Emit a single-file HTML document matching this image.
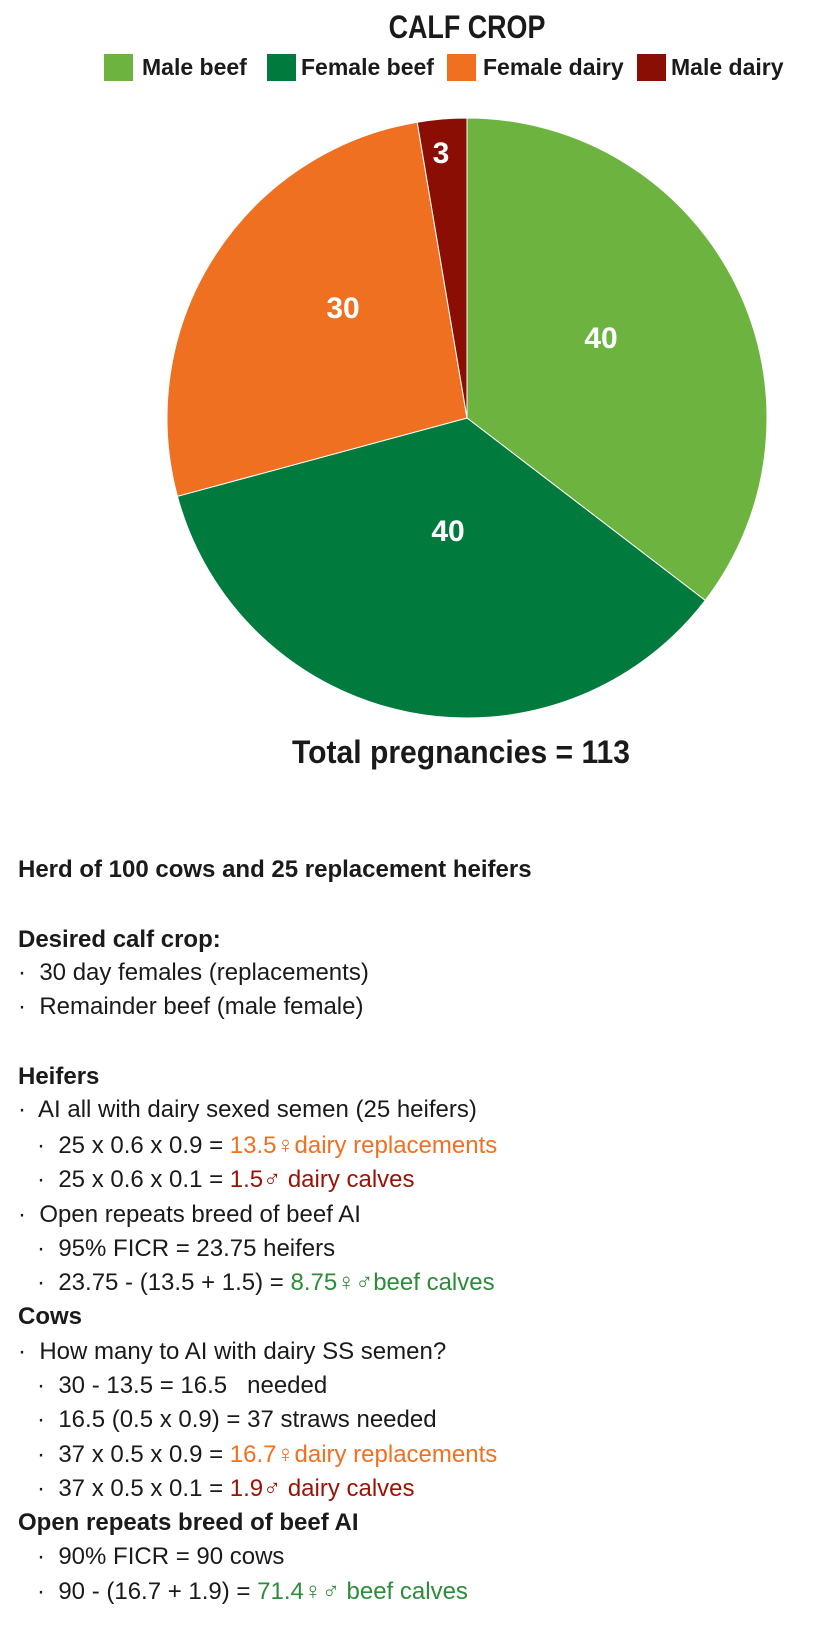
<!DOCTYPE html>
<html><head><meta charset="utf-8"><style>
body{margin:0;width:836px;height:1630px;background:#fff;position:relative;overflow:hidden;font-family:"Liberation Sans Narrow","Liberation Sans",sans-serif;color:#1a1a1a}
.t{position:absolute;white-space:nowrap;font-size:24px;line-height:28px}
.b{font-weight:bold}
.o{color:#f07022}.r{color:#9a1206}.g{color:#2e8b3a}
.lg{position:absolute;top:54px;width:29px;height:27px}
</style></head><body>
<div class="t b" style="left:0;width:934px;text-align:center;top:10px;font-size:32px;line-height:34px;transform:scaleX(0.84);transform-origin:467px 0">CALF CROP</div>
<div class="lg" style="left:104px;background:#6db33f"></div><div class="t b" style="left:142px;top:53px;font-size:23px">Male beef</div>
<div class="lg" style="left:267px;background:#007a3d"></div><div class="t b" style="left:301px;top:53px;font-size:23px">Female beef</div>
<div class="lg" style="left:447px;background:#f07022"></div><div class="t b" style="left:483px;top:53px;font-size:23px">Female dairy</div>
<div class="lg" style="left:637px;background:#8b0e04"></div><div class="t b" style="left:671px;top:53px;font-size:23px">Male dairy</div>
<svg style="position:absolute;left:0;top:0" width="836" height="760">
<path d="M467,418 L467,118 A300,300 0 0 1 705.2,600.4 Z" fill="#6db33f" stroke="#fff" stroke-width="1"/>
<path d="M467,418 L705.2,600.4 A300,300 0 0 1 177.4,496.3 Z" fill="#007a3d" stroke="#fff" stroke-width="1"/>
<path d="M467,418 L177.4,496.3 A300,300 0 0 1 417.2,122.2 Z" fill="#f07022" stroke="#fff" stroke-width="1"/>
<path d="M467,418 L417.2,122.2 A300,300 0 0 1 467,118 Z" fill="#8b0e04" stroke="#fff" stroke-width="1"/>
<g fill="#fff" font-family="Liberation Sans Narrow, Liberation Sans, sans-serif" font-weight="bold" font-size="30" text-anchor="middle">
<text x="601" y="348">40</text><text x="448" y="541">40</text><text x="343" y="318">30</text><text x="441" y="163">3</text></g>
</svg>
<div class="t b" style="left:0;width:922px;text-align:center;top:734px;font-size:32px;line-height:36px;transform:scaleX(0.94);transform-origin:461px 0">Total pregnancies = 113</div>
<div class="t b" style="left:18px;top:856px">Herd of 100 cows and 25 replacement heifers</div>
<div class="t b" style="left:18px;top:926px">Desired calf crop:</div>
<div class="t" style="left:18px;top:959px">·&nbsp; 30 day females (replacements)</div>
<div class="t" style="left:18px;top:993px">·&nbsp; Remainder beef (male female)</div>
<div class="t b" style="left:18px;top:1063px">Heifers</div>
<div class="t" style="left:18px;top:1096px">·&nbsp; AI all with dairy sexed semen (25 heifers)</div>
<div class="t" style="left:37px;top:1132px">·&nbsp; 25 x 0.6 x 0.9 = <span class="o">13.5♀dairy replacements</span></div>
<div class="t" style="left:37px;top:1166px">·&nbsp; 25 x 0.6 x 0.1 = <span class="r">1.5♂ dairy calves</span></div>
<div class="t" style="left:18px;top:1201px">·&nbsp; Open repeats breed of beef AI</div>
<div class="t" style="left:37px;top:1235px">·&nbsp; 95% FICR = 23.75 heifers</div>
<div class="t" style="left:37px;top:1269px">·&nbsp; 23.75 - (13.5 + 1.5) = <span class="g">8.75♀♂beef calves</span></div>
<div class="t b" style="left:18px;top:1303px">Cows</div>
<div class="t" style="left:18px;top:1338px">·&nbsp; How many to AI with dairy SS semen?</div>
<div class="t" style="left:37px;top:1372px">·&nbsp; 30 - 13.5 = 16.5 &nbsp; needed</div>
<div class="t" style="left:37px;top:1406px">·&nbsp; 16.5 (0.5 x 0.9) = 37 straws needed</div>
<div class="t" style="left:37px;top:1441px">·&nbsp; 37 x 0.5 x 0.9 = <span class="o">16.7♀dairy replacements</span></div>
<div class="t" style="left:37px;top:1475px">·&nbsp; 37 x 0.5 x 0.1 = <span class="r">1.9♂ dairy calves</span></div>
<div class="t b" style="left:18px;top:1509px">Open repeats breed of beef AI</div>
<div class="t" style="left:37px;top:1543px">·&nbsp; 90% FICR = 90 cows</div>
<div class="t" style="left:37px;top:1578px">·&nbsp; 90 - (16.7 + 1.9) = <span class="g">71.4♀♂ beef calves</span></div>
</body></html>
